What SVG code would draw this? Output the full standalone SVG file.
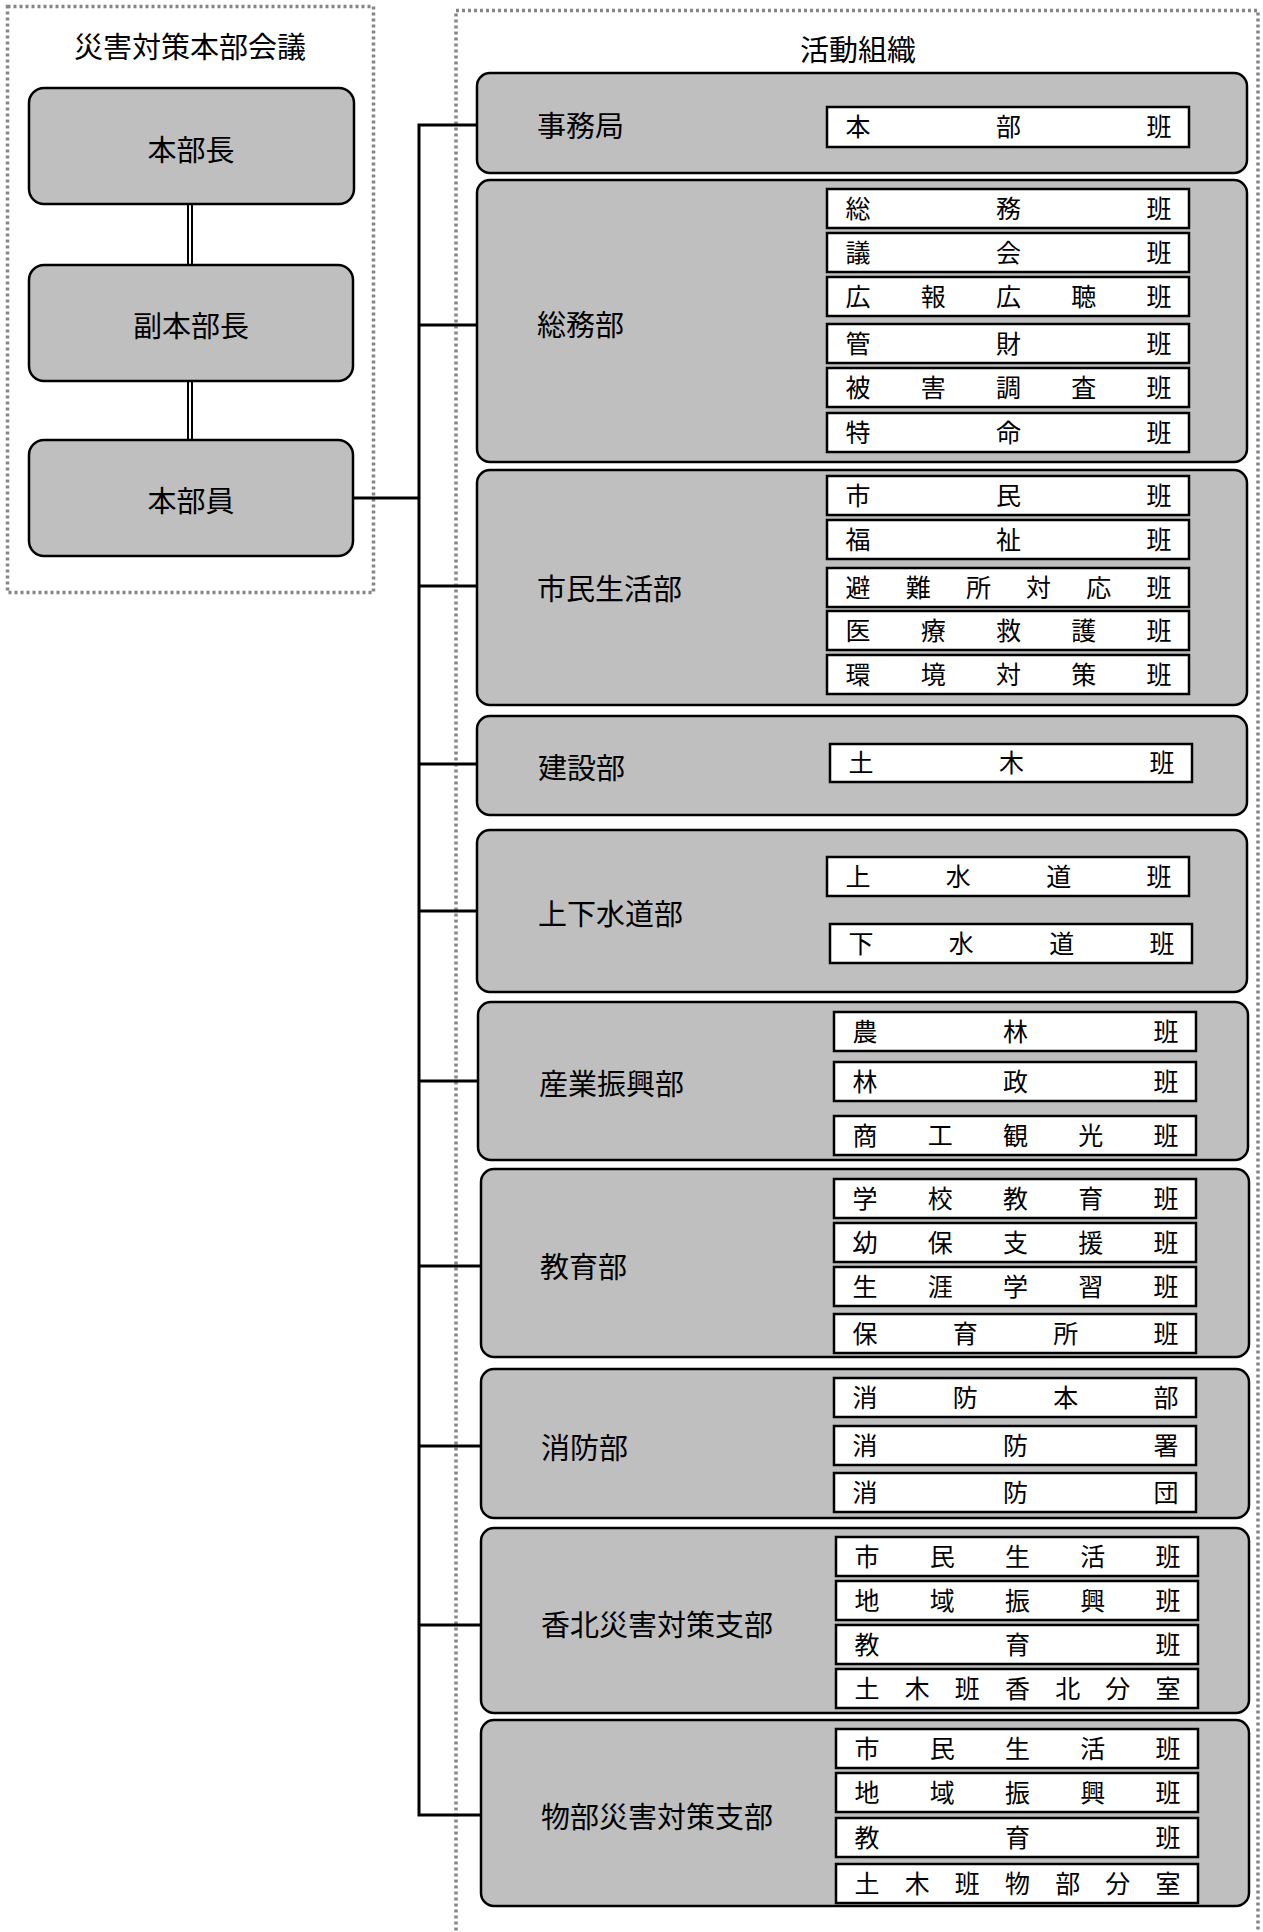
<svg xmlns="http://www.w3.org/2000/svg" width="1263" height="1932" viewBox="0 0 1263 1932">
<style>
text{font-family:"Noto Sans CJK JP","Noto Sans",sans-serif;fill:#000}
.frame{fill:none;stroke:#858585;stroke-width:3.5;stroke-dasharray:3 3}
.b{fill:#bfbfbf;stroke:#000;stroke-width:2.5}
.s{fill:#fff;stroke:#000;stroke-width:2.5}
.big{font-size:29px}
.mid{font-size:29px;text-anchor:middle}
.t{font-size:25px;text-anchor:middle}
.ln{stroke:#000;stroke-width:3;fill:none}
.dbl{stroke:#000;stroke-width:6}
.dblw{stroke:#fff;stroke-width:2}
</style>
<rect class="frame" x="7.5" y="6.5" width="366" height="586"/>
<rect class="frame" x="456" y="10.5" width="802" height="1940"/>
<text class="mid" x="190" y="58">災害対策本部会議</text>
<text class="mid" x="858" y="61">活動組織</text>

<g id="connectors">
<line class="dbl" x1="190" y1="204" x2="190" y2="265"/>
<line class="dblw" x1="190" y1="204" x2="190" y2="265"/>
<line class="dbl" x1="190" y1="381" x2="190" y2="440"/>
<line class="dblw" x1="190" y1="381" x2="190" y2="440"/>
<line class="ln" x1="353" y1="498" x2="419" y2="498"/>
<polyline class="ln" points="477,125 419,125 419,1815 481,1815"/>
<line class="ln" x1="419" y1="325" x2="477" y2="325"/>
<line class="ln" x1="419" y1="586" x2="477" y2="586"/>
<line class="ln" x1="419" y1="764" x2="477" y2="764"/>
<line class="ln" x1="419" y1="911" x2="477" y2="911"/>
<line class="ln" x1="419" y1="1081" x2="478" y2="1081"/>
<line class="ln" x1="419" y1="1266" x2="481" y2="1266"/>
<line class="ln" x1="419" y1="1446" x2="481" y2="1446"/>
<line class="ln" x1="419" y1="1625" x2="481" y2="1625"/>
</g>

<g id="honbucho"><rect class="b" x="29" y="88" width="325" height="116" rx="15"/><text class="mid" x="191" y="161">本部長</text></g>
<g id="fukuhonbucho"><rect class="b" x="29" y="265" width="324" height="116" rx="15"/><text class="mid" x="191" y="337">副本部長</text></g>
<g id="honbuin"><rect class="b" x="29" y="440" width="324" height="116" rx="15"/><text class="mid" x="191" y="512">本部員</text></g>

<g id="jimukyoku">
<rect class="b" x="477" y="73" width="770" height="100" rx="13"/>
<text class="big" x="537" y="137">事務局</text>
<g transform="translate(827,107)"><rect class="s" width="362" height="40"/><text class="t" x="31 181.5 332" y="29">本部班</text></g>
</g>

<g id="somubu">
<rect class="b" x="477" y="180" width="770" height="282" rx="13"/>
<text class="big" x="537" y="336">総務部</text>
<g transform="translate(827,189)"><rect class="s" width="362" height="39"/><text class="t" x="31 181.5 332" y="28.5">総務班</text></g>
<g transform="translate(827,233)"><rect class="s" width="362" height="39"/><text class="t" x="31 181.5 332" y="28.5">議会班</text></g>
<g transform="translate(827,277)"><rect class="s" width="362" height="39"/><text class="t" x="31 106.25 181.5 256.75 332" y="28.5">広報広聴班</text></g>
<g transform="translate(827,324)"><rect class="s" width="362" height="39"/><text class="t" x="31 181.5 332" y="28.5">管財班</text></g>
<g transform="translate(827,368)"><rect class="s" width="362" height="39"/><text class="t" x="31 106.25 181.5 256.75 332" y="28.5">被害調査班</text></g>
<g transform="translate(827,413)"><rect class="s" width="362" height="39"/><text class="t" x="31 181.5 332" y="28.5">特命班</text></g>
</g>

<g id="shiminseikatsubu">
<rect class="b" x="477" y="470" width="770" height="235" rx="13"/>
<text class="big" x="537" y="600">市民生活部</text>
<g transform="translate(827,476)"><rect class="s" width="362" height="39"/><text class="t" x="31 181.5 332" y="28.5">市民班</text></g>
<g transform="translate(827,520)"><rect class="s" width="362" height="39"/><text class="t" x="31 181.5 332" y="28.5">福祉班</text></g>
<g transform="translate(827,568)"><rect class="s" width="362" height="39"/><text class="t" x="31 91.2 151.4 211.6 271.8 332" y="28.5">避難所対応班</text></g>
<g transform="translate(827,611)"><rect class="s" width="362" height="39"/><text class="t" x="31 106.25 181.5 256.75 332" y="28.5">医療救護班</text></g>
<g transform="translate(827,655)"><rect class="s" width="362" height="39"/><text class="t" x="31 106.25 181.5 256.75 332" y="28.5">環境対策班</text></g>
</g>

<g id="kensetsubu">
<rect class="b" x="477" y="716" width="770" height="99" rx="13"/>
<text class="big" x="538" y="779">建設部</text>
<g transform="translate(830,744)"><rect class="s" width="362" height="38"/><text class="t" x="31 181.5 332" y="28">土木班</text></g>
</g>

<g id="joge">
<rect class="b" x="477" y="830" width="770" height="162" rx="13"/>
<text class="big" x="538" y="925">上下水道部</text>
<g transform="translate(827,857)"><rect class="s" width="362" height="39"/><text class="t" x="31 131.3 231.7 332" y="28.5">上水道班</text></g>
<g transform="translate(830,924)"><rect class="s" width="362" height="39"/><text class="t" x="31 131.3 231.7 332" y="28.5">下水道班</text></g>
</g>

<g id="sangyo">
<rect class="b" x="478" y="1002" width="770" height="158" rx="13"/>
<text class="big" x="539" y="1095">産業振興部</text>
<g transform="translate(834,1012)"><rect class="s" width="362" height="39"/><text class="t" x="31 181.5 332" y="28.5">農林班</text></g>
<g transform="translate(834,1062)"><rect class="s" width="362" height="39"/><text class="t" x="31 181.5 332" y="28.5">林政班</text></g>
<g transform="translate(834,1116)"><rect class="s" width="362" height="39"/><text class="t" x="31 106.25 181.5 256.75 332" y="28.5">商工観光班</text></g>
</g>

<g id="kyoikubu">
<rect class="b" x="481" y="1169" width="768" height="188" rx="13"/>
<text class="big" x="540" y="1278">教育部</text>
<g transform="translate(834,1179)"><rect class="s" width="362" height="39"/><text class="t" x="31 106.25 181.5 256.75 332" y="28.5">学校教育班</text></g>
<g transform="translate(834,1223)"><rect class="s" width="362" height="39"/><text class="t" x="31 106.25 181.5 256.75 332" y="28.5">幼保支援班</text></g>
<g transform="translate(834,1267)"><rect class="s" width="362" height="39"/><text class="t" x="31 106.25 181.5 256.75 332" y="28.5">生涯学習班</text></g>
<g transform="translate(834,1314)"><rect class="s" width="362" height="39"/><text class="t" x="31 131.3 231.7 332" y="28.5">保育所班</text></g>
</g>

<g id="shobobu">
<rect class="b" x="481" y="1369" width="768" height="149" rx="13"/>
<text class="big" x="541" y="1459">消防部</text>
<g transform="translate(834,1378)"><rect class="s" width="362" height="39"/><text class="t" x="31 131.3 231.7 332" y="28.5">消防本部</text></g>
<g transform="translate(834,1426)"><rect class="s" width="362" height="39"/><text class="t" x="31 181.5 332" y="28.5">消防署</text></g>
<g transform="translate(834,1473)"><rect class="s" width="362" height="39"/><text class="t" x="31 181.5 332" y="28.5">消防団</text></g>
</g>

<g id="kahoku">
<rect class="b" x="481" y="1528" width="768" height="185" rx="13"/>
<text class="big" x="541" y="1636">香北災害対策支部</text>
<g transform="translate(836,1537)"><rect class="s" width="362" height="39"/><text class="t" x="31 106.25 181.5 256.75 332" y="28.5">市民生活班</text></g>
<g transform="translate(836,1581)"><rect class="s" width="362" height="39"/><text class="t" x="31 106.25 181.5 256.75 332" y="28.5">地域振興班</text></g>
<g transform="translate(836,1625)"><rect class="s" width="362" height="39"/><text class="t" x="31 181.5 332" y="28.5">教育班</text></g>
<g transform="translate(836,1669)"><rect class="s" width="362" height="39"/><text class="t" x="31 81.2 131.3 181.5 231.7 281.8 332" y="28.5">土木班香北分室</text></g>
</g>

<g id="monobe">
<rect class="b" x="481" y="1720" width="768" height="186" rx="13"/>
<text class="big" x="541" y="1828">物部災害対策支部</text>
<g transform="translate(836,1729)"><rect class="s" width="362" height="39"/><text class="t" x="31 106.25 181.5 256.75 332" y="28.5">市民生活班</text></g>
<g transform="translate(836,1773)"><rect class="s" width="362" height="39"/><text class="t" x="31 106.25 181.5 256.75 332" y="28.5">地域振興班</text></g>
<g transform="translate(836,1818)"><rect class="s" width="362" height="39"/><text class="t" x="31 181.5 332" y="28.5">教育班</text></g>
<g transform="translate(836,1864)"><rect class="s" width="362" height="39"/><text class="t" x="31 81.2 131.3 181.5 231.7 281.8 332" y="28.5">土木班物部分室</text></g>
</g>
</svg>
